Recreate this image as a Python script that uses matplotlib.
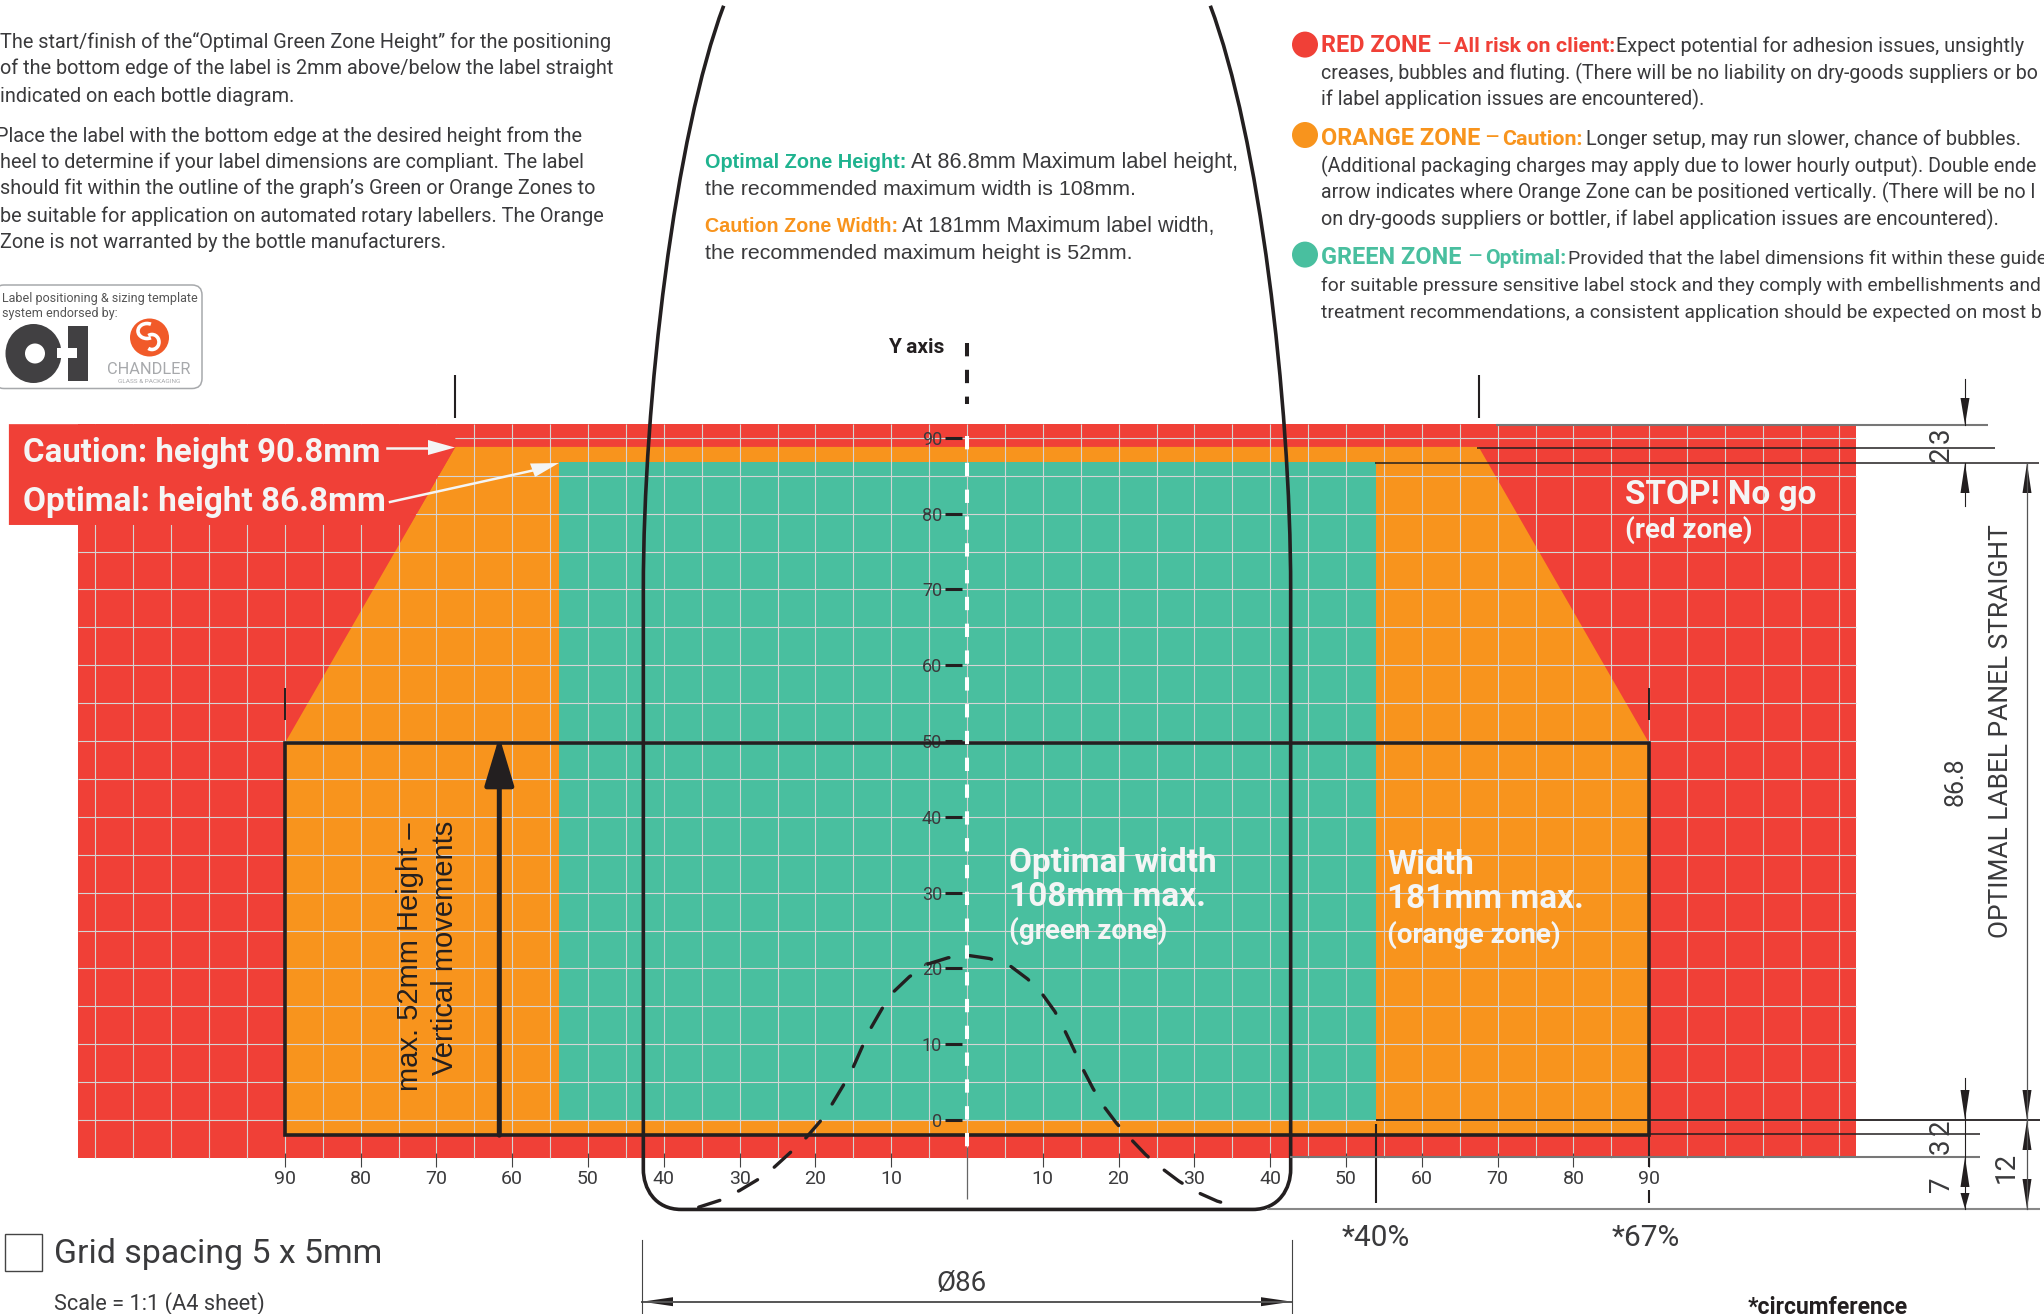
import matplotlib
matplotlib.use('Agg')
import matplotlib.pyplot as plt
from matplotlib.patches import Polygon, Rectangle, FancyBboxPatch, Ellipse, Arc, PathPatch
from matplotlib.path import Path

plt.rcParams['lines.scale_dashes'] = False

# zone sizes in mm
green_left = -53.8
green_right = 54
green_top = 86.8
orange_half_width = 90
orange_shoulder_x = 67.5
orange_shoulder_y = 49.7
orange_top = 88.8
orange_bottom = -2
red_half_width = 117.3
red_top = 91.8
red_bottom = -5
base_y = -11.8
bottle_half_width = 42.7

x_tick_values = [-90, -80, -70, -60, -50, -40, -30, -20, -10, 10, 20, 30, 40, 50, 60, 70, 80, 90]
x_tick_labels = ['90', '80', '70', '60', '50', '40', '30', '20', '10', '10', '20', '30', '40', '50', '60', '70', '80', '90']
y_tick_values = [0, 10, 20, 30, 40, 50, 60, 70, 80, 90]
grid_x = list(range(-115, 120, 5))
grid_y = list(range(0, 95, 5))

# dashed bell under the bottle
bell_x = [-35.4, -32.6, -30, -27.5, -25.4, -23.1, -21.2, -19.3, -17.8, -16.3, -15, -13.8, -12.7, -11.2, -9.7, -7.6,
          -5.1, -2.5, 0.25, 3, 5.6, 8, 9.8, 11.6, 12.8, 14.1, 15.2, 16.6, 17.9, 19.7, 21.5, 23.6, 25.6, 28, 30.3, 33, 35.4]
bell_y = [-11.5, -10.6, -9.3, -7.8, -6.2, -4.1, -2.3, -0.1, 2.1, 4.6, 7, 9.7, 12.1, 14.7, 16.9, 18.9,
          20.6, 21.4, 21.7, 21.3, 20.4, 18.6, 16.8, 14.3, 12, 9.3, 6.9, 4.2, 2, -0.4, -2.4, -4.6, -6.3, -8.1, -9.5, -10.7, -11.4]

RED = '#f04037'
ORANGE = '#f8941d'
GREEN = '#49bf9f'
DARK = '#231f20'
TEXT = '#3a3a3c'
GRID = '#d4d4d4'
WHITE = '#f4f5f5'
NARROW = ['Roboto', 'DejaVu Sans']
WIDE = ['Liberation Sans', 'DejaVu Sans']

W, H = 2044, 1314
MM = 7.58
X0, Y0 = 967, 1120

fig = plt.figure(figsize=(W / 100, H / 100), dpi=100, facecolor='white')

# chart axes in mm, pixel overlay for the notes
ax = fig.add_axes([0, 0, 1, 1], facecolor='none')
ax.set_xlim(-X0 / MM, (W - X0) / MM)
ax.set_ylim((Y0 - H) / MM, Y0 / MM)
ax.set_axisbelow(False)
pax = fig.add_axes([0, 0, 1, 1], facecolor='none', zorder=5)
pax.set_xlim(0, W)
pax.set_ylim(H, 0)
pax.axis('off')

for s in ax.spines.values():
    s.set_visible(False)
ax.spines['bottom'].set_position(('data', -4.3))
ax.spines['left'].set_position(('data', -0.7))
ax.set_xticks(x_tick_values, x_tick_labels)
ax.set_yticks(y_tick_values)
ax.tick_params(axis='x', direction='out', length=10.3, width=0.8, color='#444444', labelsize=14,
               pad=2, labelcolor=TEXT, labelfontfamily=NARROW)
ax.tick_params(axis='y', direction='out', length=12, width=2.2, color=DARK, labelsize=13,
               pad=2, labelcolor=TEXT, labelfontfamily=NARROW)

# zones
ax.add_patch(Rectangle((-red_half_width, red_bottom), 2 * red_half_width, red_top - red_bottom, fc=RED, ec='none', zorder=1))
ax.add_patch(Polygon([(-orange_half_width, orange_bottom), (-orange_half_width, orange_shoulder_y),
                      (-orange_shoulder_x, orange_top), (orange_shoulder_x, orange_top),
                      (orange_half_width, orange_shoulder_y), (orange_half_width, orange_bottom)],
                     fc=ORANGE, ec='none', zorder=1.1))
ax.add_patch(Rectangle((green_left, 0), green_right - green_left, green_top, fc=GREEN, ec='none', zorder=1.2))

# 5mm grid
ax.vlines(grid_x, red_bottom, red_top, color=GRID, lw=0.8, zorder=1.3)
ax.hlines(grid_y, -red_half_width, red_half_width, color=GRID, lw=0.8, zorder=1.3)

# red tag behind the two height notes
ax.add_patch(Polygon([(-126.4, 78.5), (-126.4, red_top), (-orange_shoulder_x, red_top),
                      (-orange_shoulder_x, orange_top), (-73.5, 78.5)], fc=RED, ec='none', zorder=1.4))

# label outline and its marks
ax.add_patch(Rectangle((-orange_half_width, orange_bottom), 2 * orange_half_width, orange_shoulder_y - orange_bottom,
                       fc='none', ec=DARK, lw=2.6, zorder=3))
ax.vlines([-orange_half_width, orange_half_width], 52.8, 57, color=DARK, lw=1.4, zorder=3)
ax.vlines([-orange_shoulder_x, orange_shoulder_x], 92.6, 98.3, color=DARK, lw=1.5, zorder=3)
ax.vlines(orange_half_width, -6.2, orange_bottom, color=DARK, lw=1.5, zorder=3)
ax.vlines(orange_half_width, -11, -9.2, color=DARK, lw=1.5, zorder=3)
ax.vlines(green_right, -11, -0.5, color=DARK, lw=1.5, zorder=3)
ax.vlines(0, -10.4, -3.6, color='#666666', lw=0.9, zorder=3)

# bottle outline
b = bottle_half_width
r = 5
bottle_path = Path(
    [(-32.1, 147), (-38.5, 130), (-b, 95), (-b, 70), (-b, -6.5), (-b, -9), (-b + 1.5, base_y), (-b + r, base_y),
     (b - r, base_y), (b - 1.5, base_y), (b, -9), (b, -6.5), (b, 70), (b, 95), (38.5, 130), (32.1, 147)],
    [Path.MOVETO, Path.CURVE4, Path.CURVE4, Path.CURVE4, Path.LINETO, Path.CURVE4, Path.CURVE4, Path.CURVE4,
     Path.LINETO, Path.CURVE4, Path.CURVE4, Path.CURVE4, Path.LINETO, Path.CURVE4, Path.CURVE4, Path.CURVE4])
ax.add_patch(PathPatch(bottle_path, fc='none', ec=DARK, lw=2.6, zorder=4))

ax.plot(bell_x, bell_y, color=DARK, lw=2.4, linestyle=(0, (16, 15)), dash_capstyle='round', zorder=4)

# Y axis, white over the chart and black above it
ax.plot([0, 0], [90.3, -4], color='white', lw=2.9, linestyle=(0, (9.6, 9.7)), zorder=4)
ax.plot([0, 0], [102.5, 94.5], color=DARK, lw=2.9, linestyle=(0, (9.6, 9.7)), zorder=4)
ax.vlines(0, 90, -5, color='#cfcfcf', lw=0.7, zorder=1.35)

# big height arrow
ax.annotate('', xy=(-61.7, 50.6), xytext=(-61.7, -2), zorder=4,
            arrowprops=dict(arrowstyle='-|>,head_length=1.5,head_width=0.45', color=DARK, lw=3.6,
                            shrinkA=0, shrinkB=0, mutation_scale=20))


def txt(x, y, s, size, color=TEXT, weight='normal', ha='left', va='baseline', rot=0, fam=NARROW):
    return pax.text(x, y, s, fontsize=size, color=color, fontweight=weight, ha=ha, va=va,
                    rotation=rot, family=fam, rotation_mode='anchor')


def dim_arrow(x, tip, base, half=4.5):
    pax.add_patch(Polygon([(x, tip), (x - half, base), (x + half, base)], fc=DARK, ec='none'))


def dim_arrow_h(y, tip, base, half=4.5):
    pax.add_patch(Polygon([(tip, y), (base, y - half), (base, y + half)], fc=DARK, ec='none'))


# left notes
BODY = 14.3
left_lines = [(0, 47.5, 'The start/finish of the“Optimal Green Zone Height” for the positioning'),
              (0, 74.5, 'of the bottom edge of the label is 2mm above/below the label straight'),
              (0, 101.5, 'indicated on each bottle diagram.'),
              (-4, 141.5, 'Place the label with the bottom edge at the desired height from the'),
              (0, 168.5, 'heel to determine if your label dimensions are compliant. The label'),
              (0, 194.5, 'should fit within the outline of the graph’s Green or Orange Zones to'),
              (0, 221.5, 'be suitable for application on automated rotary labellers. The Orange'),
              (0, 248.5, 'Zone is not warranted by the bottle manufacturers.')]
for x, y, s in left_lines:
    txt(x, y, s, BODY)

# logo box
pax.add_patch(FancyBboxPatch((-6, 285), 208, 103.5, boxstyle='round,pad=0,rounding_size=10',
                             fc='white', ec='#a7a9ac', lw=1.1))
txt(2, 302, 'Label positioning & sizing template', 9, color='#555555')
txt(2, 317, 'system endorsed by:', 9, color='#555555')
pax.add_patch(Ellipse((33.5, 353.5), 56, 59, fc='#414042', ec='none'))
pax.add_patch(Ellipse((35, 353.5), 20, 20, fc='white', ec='none'))
pax.add_patch(Rectangle((68, 326), 20, 55, fc='#414042', ec='none'))
pax.add_patch(Rectangle((57, 348), 20, 10, fc='white', ec='none'))
pax.add_patch(Ellipse((149.5, 337.5), 39, 38, fc='#f15a29', ec='none'))
pax.add_patch(Arc((147, 331), 18, 15, theta1=60, theta2=300, ec='white', lw=2.6))
pax.add_patch(Arc((152, 342), 14, 15, theta1=-120, theta2=120, ec='white', lw=2.6))
txt(149, 374, 'CHANDLER', 11.8, color='#a7a9ac', ha='center')
txt(149, 383, 'GLASS & PACKAGING', 4.6, color='#a7a9ac', ha='center')

# middle notes
txt(705, 168, 'Optimal Zone Height:', 14.3, color='#1fb38f', weight='bold', fam=WIDE)
txt(911, 168, 'At 86.8mm Maximum label height,', 15.6, fam=WIDE)
txt(705, 195, 'the recommended maximum width is 108mm.', 15.4, fam=WIDE)
txt(705, 232, 'Caution Zone Width:', 14.2, color=ORANGE, weight='bold', fam=WIDE)
txt(902, 232, 'At 181mm Maximum label width,', 15.6, fam=WIDE)
txt(705, 259, 'the recommended maximum height is 52mm.', 15.4, fam=WIDE)

# right notes, cut at the sheet edge as in the source
for cy, col in [(44.6, RED), (135, ORANGE), (254.6, GREEN)]:
    pax.add_patch(Ellipse((1305, cy), 26, 26, fc=col, ec='none'))
HEAD = 16.9
HEAD2 = 15.4
txt(1321, 52.5, 'RED ZONE', HEAD, RED, 'bold')
txt(1436, 52.5, '–', HEAD, RED)
txt(1454.5, 52.5, 'All risk on client:', HEAD2, RED, 'bold')
txt(1616, 52.5, 'Expect potential for adhesion issues, unsightly', BODY)
txt(1321, 79, 'creases, bubbles and fluting. (There will be no liability on dry-goods suppliers or bo', 14.1)
txt(1321, 105, 'if label application issues are encountered).', BODY)
txt(1321, 145, 'ORANGE ZONE', HEAD, ORANGE, 'bold')
txt(1484, 145, '–', HEAD, ORANGE)
txt(1502, 145, 'Caution:', HEAD2, ORANGE, 'bold')
txt(1586, 145, 'Longer setup, may run slower, chance of bubbles.', BODY)
txt(1321, 172, '(Additional packaging charges may apply due to lower hourly output). Double ende', 14.1)
txt(1321, 198, 'arrow indicates where Orange Zone can be positioned vertically. (There will be no l', 14.1)
txt(1321, 225, 'on dry-goods suppliers or bottler, if label application issues are encountered).', BODY)
txt(1321, 264, 'GREEN ZONE', HEAD, GREEN, 'bold')
txt(1467, 264, '–', HEAD, GREEN)
txt(1485, 264, 'Optimal:', HEAD2, GREEN, 'bold')
txt(1568, 264, 'Provided that the label dimensions fit within these guide', 13.9)
txt(1321, 291, 'for suitable pressure sensitive label stock and they comply with embellishments and', 13.9)
txt(1321, 318, 'treatment recommendations, a consistent application should be expected on most b', 13.9)

txt(944, 353, 'Y axis', 15, DARK, 'bold', ha='right')

# notes on the chart
txt(23, 462, 'Caution: height 90.8mm', 23.8, WHITE, 'bold')
txt(23, 511, 'Optimal: height 86.8mm', 24, WHITE, 'bold')
pax.plot([387, 430], [447.5, 447.5], color=WHITE, lw=1.8)
pax.add_patch(Polygon([(455, 447.5), (428, 440), (428, 455)], fc=WHITE, ec='none'))
pax.plot([390, 535], [502, 470], color=WHITE, lw=1.8)
pax.add_patch(Polygon([(559, 463), (530, 463.5), (535, 477)], fc=WHITE, ec='none'))
txt(1625, 504, 'STOP! No go', 24, WHITE, 'bold')
txt(1625, 538, '(red zone)', 20, WHITE, 'bold')
txt(1009, 872, 'Optimal width', 24, WHITE, 'bold')
txt(1009, 906, '108mm max.', 24, WHITE, 'bold')
txt(1009, 939, '(green zone)', 20, WHITE, 'bold')
txt(1387, 874, 'Width', 24, WHITE, 'bold')
txt(1387, 908, '181mm max.', 24, WHITE, 'bold')
txt(1387, 943, '(orange zone)', 20, WHITE, 'bold')
txt(418, 1091, 'max. 52mm Height –', 21, DARK, rot=90, fam=WIDE)
txt(453, 1075, 'Vertical movements', 21, DARK, rot=90, fam=WIDE)

# right dimensions
hlines = [(425, 1496, 1988, '#777777', 1.5), (448, 1477, 1995, DARK, 1.1), (463, 1375, 2039, DARK, 1.1),
          (1120, 1376, 2040, DARK, 1.3), (1134, 1650, 1980, DARK, 1.1), (1157, 1290, 1980, '#777777', 1.5),
          (1209, 1267, 2040, '#888888', 1.5)]
for y, x1, x2, col, lw in hlines:
    pax.plot([x1, x2], [y, y], color=col, lw=lw, solid_capstyle='butt')
pax.plot([1965, 1965], [379, 425], color=DARK, lw=0.8)
pax.plot([1965, 1965], [463, 506], color=DARK, lw=0.8)
pax.plot([1965, 1965], [1078, 1209], color=DARK, lw=0.8)
pax.plot([2027, 2027], [463, 1209], color='#555555', lw=0.9)
dim_arrow(1965, 425, 398)
dim_arrow(1965, 463, 493)
dim_arrow(1965, 1120, 1090)
dim_arrow(1965, 1157, 1187)
dim_arrow(1965, 1209, 1193)
dim_arrow(2027, 463, 493)
dim_arrow(2027, 1120, 1090)
dim_arrow(2027, 1120, 1150)
dim_arrow(2027, 1209, 1179)
txt(1949, 435, '3', 20, ha='center', rot=90)
txt(1949, 454, '2', 20, ha='center', rot=90)
txt(1949, 1127, '2', 20, ha='center', rot=90)
txt(1949, 1146, '3', 20, ha='center', rot=90)
txt(1949, 1184, '7', 20, ha='center', rot=90)
txt(2014, 1167, '12', 20, ha='center', rot=90)
txt(1963, 782, '86.8', 18, ha='center', rot=90)
txt(2008, 731, 'OPTIMAL LABEL PANEL STRAIGHT', 18.9, ha='center', rot=90)

# bottom notes
pax.add_patch(Rectangle((4.5, 1234), 37, 37, fc='white', ec='#444444', lw=1))
txt(54, 1263, 'Grid spacing 5 x 5mm', 24.4)
txt(54, 1310, 'Scale = 1:1 (A4 sheet)', 15.7)
txt(1376, 1246, '*40%', 21.5, ha='center')
txt(1646, 1246, '*67%', 21.5, ha='center')
txt(1748, 1314, '*circumference', 16.5, DARK, 'bold')
txt(961, 1291, 'Ø86', 20, ha='center')
pax.plot([642, 1292], [1301.7, 1301.7], color='#555555', lw=1.4)
pax.plot([642, 642], [1240, 1314], color='#444444', lw=0.8)
pax.plot([1292, 1292], [1240, 1314], color='#444444', lw=0.8)
dim_arrow_h(1301.7, 642, 673)
dim_arrow_h(1301.7, 1292, 1261)

fig.savefig('out.png', dpi=100)
